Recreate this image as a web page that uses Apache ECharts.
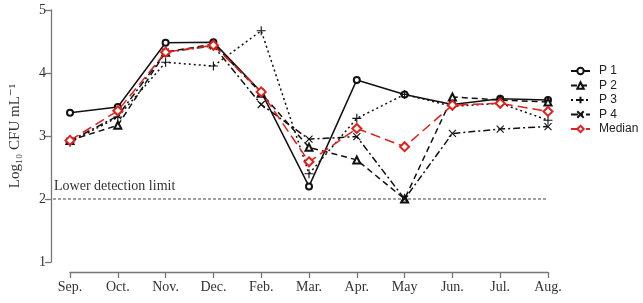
<!DOCTYPE html>
<html><head><meta charset="utf-8">
<script src="https://cdn.jsdelivr.net/npm/echarts@6/dist/echarts.min.js"></script>
<style>html,body{margin:0;padding:0;background:#fff}#c{width:643px;height:303px}</style>
</head><body><div id="c"></div>
<script>
const months = ['Sep.','Oct.','Nov.','Dec.','Feb.','Mar.','Apr.','May','Jun.','Jul.','Aug.'];
const p1 = [3.37,3.46,4.48,4.49,3.70,2.20,3.89,3.66,3.50,3.59,3.57];
const p2 = [2.93,3.17,4.33,4.46,3.68,2.82,2.62,2.00,3.62,3.57,3.54];
const p3 = [2.90,3.30,4.17,4.11,4.67,2.40,3.28,3.66,3.47,3.52,3.25];
const p4 = [2.92,3.32,4.33,4.43,3.50,2.95,2.99,2.00,3.04,3.11,3.15];
const median = [2.93,3.40,4.33,4.44,3.70,2.59,3.12,2.83,3.49,3.52,3.39];
const detectionLimit = 2;
const yTicks = [1,2,3,4,5];

const serif = '"Liberation Serif","DejaVu Serif",serif';
const plusPath = 'path://M0,5L10,5M5,0L5,10';
const crossPath = 'path://M0,0L10,10M10,0L0,10';
function mk(name, data, symbol, size, dash, color, z) {
  return {
    name, type: 'line', data, symbol, symbolSize: size,
    xAxisIndex: 0, yAxisIndex: 0, z,
    lineStyle: { color, width: 1.5, type: dash },
    itemStyle: { color, borderColor: color, borderWidth: 1.1 },
    emphasis: { disabled: true }
  };
}
const chart = echarts.init(document.getElementById('c'));
chart.setOption({
  animation: false,
  grid: [
    { left: 68, right: 95, top: 10, bottom: 41 },
    { left: 53, right: 95, top: 10, bottom: 41 }
  ],
  legend: {
    orient: 'vertical', left: 565, top: 60, itemWidth: 19, itemHeight: 8, itemGap: 2.5,
    textStyle: { fontFamily: '"Liberation Sans",Arial,sans-serif', fontSize: 12, color: '#222', lineHeight: 12, padding: [0,0,0,4] },
    data: ['P 1','P 2','P 3','P 4','Median']
  },
  xAxis: [
    { type: 'category', data: months, boundaryGap: false, gridIndex: 0, offset: 10,
      axisLine: { lineStyle: { color: '#777', width: 1.3 } },
      axisTick: { alignWithLabel: true, length: 6, lineStyle: { color: '#777', width: 1.3 } },
      axisLabel: { fontFamily: serif, fontSize: 14, color: '#333', margin: 8, interval: 0 },
      splitLine: { show: false } },
    { type: 'value', min: 0, max: 1, gridIndex: 1, show: false }
  ],
  yAxis: [
    { type: 'value', min: yTicks[0], max: yTicks[yTicks.length-1], interval: 1, gridIndex: 0, offset: 19,
      name: 'Log\u2081\u2080 CFU mL\u207B\u00B9', nameLocation: 'middle', nameGap: 28,
      nameTextStyle: { fontFamily: serif, fontSize: 15, color: '#333' },
      axisLine: { show: true, lineStyle: { color: '#777', width: 1.3 } },
      axisTick: { show: true, length: 6, lineStyle: { color: '#777', width: 1.3 } },
      axisLabel: { fontFamily: serif, fontSize: 14, color: '#333', margin: 5 },
      splitLine: { show: false } },
    { type: 'value', min: 1, max: 5, gridIndex: 1, show: false }
  ],
  series: [
    { type: 'line', xAxisIndex: 1, yAxisIndex: 1, data: [[0, detectionLimit],[1, detectionLimit]],
      symbol: 'none', silent: true, z: 1,
      lineStyle: { color: '#444', width: 1.2, type: [3, 2] },
      markPoint: { symbol: 'circle', symbolSize: 0,
        data: [{ coord: [0, detectionLimit], label: { show: true, formatter: 'Lower detection limit', position: 'right', offset: [-4, -13],
          fontFamily: serif, fontSize: 14, color: '#333' } }] } },
    mk('P 1', p1, 'emptyCircle', 6, 'solid', '#111', 3),
    mk('P 2', p2, 'emptyTriangle', 7, [6, 4], '#111', 3),
    mk('P 3', p3, plusPath, 9, [2, 3], '#111', 3),
    mk('P 4', p4, crossPath, 7, [7, 3, 2, 3], '#111', 3),
    mk('Median', median, 'emptyDiamond', 9, [10, 5], '#e3201b', 5)
  ]
});
</script></body></html>
